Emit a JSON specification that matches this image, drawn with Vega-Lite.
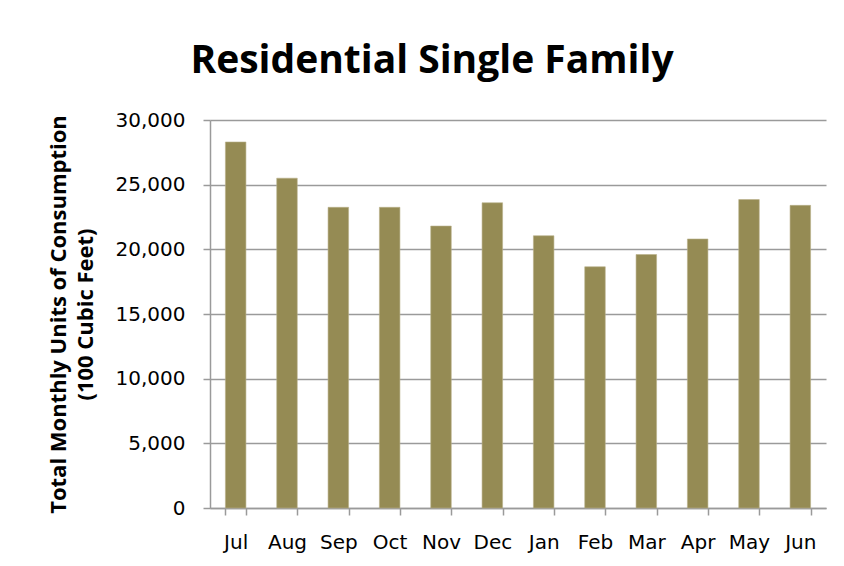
{
  "$schema": "https://vega.github.io/schema/vega-lite/v6.json",
  "width": 616,
  "height": 388,
  "autosize": "none",
  "padding": {"left": 210, "top": 120, "right": 18, "bottom": 58},
  "background": "white",
  "title": {
    "text": "Residential Single Family",
    "font": "Open Sans",
    "fontSize": 39,
    "fontWeight": "bold",
    "color": "black",
    "anchor": "middle",
    "dx": -86,
    "offset": 29
  },
  "data": {
    "values": [
      {"month": "Jul", "units": 28300},
      {"month": "Aug", "units": 25500},
      {"month": "Sep", "units": 23250},
      {"month": "Oct", "units": 23250},
      {"month": "Nov", "units": 21800},
      {"month": "Dec", "units": 23600},
      {"month": "Jan", "units": 21050},
      {"month": "Feb", "units": 18650},
      {"month": "Mar", "units": 19600},
      {"month": "Apr", "units": 20800},
      {"month": "May", "units": 23850},
      {"month": "Jun", "units": 23400}
    ]
  },
  "mark": {"type": "bar", "color": "#958B54", "stroke": "#b8b08a", "strokeWidth": 0.6},
  "encoding": {
    "x": {
      "field": "month",
      "type": "nominal",
      "sort": null,
      "scale": {"paddingInner": 0.6, "paddingOuter": 0.3},
      "axis": {
        "title": null,
        "labelAngle": 0,
        "labelFont": "DejaVu Sans",
        "labelFontSize": 20,
        "labelColor": "black",
        "labelPadding": 17,
        "domainColor": "#9a9a9a",
        "domainWidth": 1.5,
        "tickColor": "#9a9a9a",
        "tickWidth": 1.5,
        "tickSize": 7,
        "tickBand": "extent"
      }
    },
    "y": {
      "field": "units",
      "type": "quantitative",
      "scale": {"domain": [0, 30000], "nice": false},
      "axis": {
        "title": ["Total Monthly Units of Consumption", "(100 Cubic Feet)"],
        "titleFont": "Open Sans",
        "titleFontSize": 22,
        "titleFontWeight": "bold",
        "titleColor": "black",
        "titlePadding": 18,
        "titleLineHeight": 27,
        "values": [0, 5000, 10000, 15000, 20000, 25000, 30000],
        "format": ",.0f",
        "labelFont": "DejaVu Sans",
        "labelFontSize": 20,
        "labelColor": "black",
        "labelPadding": 18,
        "domainColor": "#9a9a9a",
        "domainWidth": 1.5,
        "tickColor": "#9a9a9a",
        "tickWidth": 1.5,
        "tickSize": 7,
        "grid": true,
        "gridColor": "#9a9a9a",
        "gridWidth": 1.5
      }
    }
  },
  "config": {"view": {"stroke": null}}
}
